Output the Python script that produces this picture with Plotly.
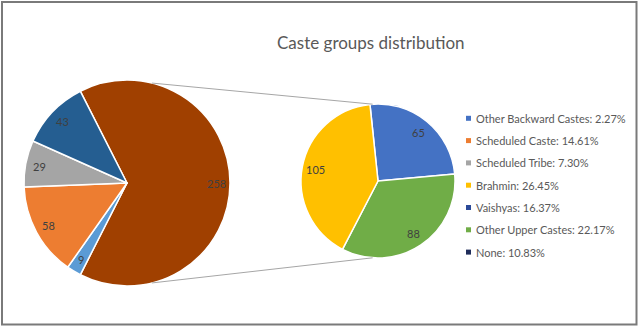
import math
import plotly.graph_objects as go

# Caste group counts
groups = ["Other Backward Castes", "Scheduled Caste", "Scheduled Tribe",
          "Brahmin", "Vaishyas", "Other Upper Castes", "None"]
counts = [9, 58, 29, 105, 65, 88, 43]
legend_colors = ["#4472C4", "#ED7D31", "#A5A5A5", "#FFC000",
                 "#2B4A98", "#70AD47", "#1F2D5A"]

# Upper castes are split out into the secondary pie
main_order = ["Other Backward Castes", "Scheduled Caste", "Scheduled Tribe", "None"]
main_colors = ["#5B9BD5", "#ED7D31", "#A5A5A5", "#255E91"]
detail_order = ["Vaishyas", "Other Upper Castes", "Brahmin"]
detail_colors = ["#4472C4", "#70AD47", "#FFC000"]
other_color = "#A04000"

W, H = 640, 328
value_of = dict(zip(groups, counts))
total = sum(counts)
detail_vals = [value_of[g] for g in detail_order]
other_val = sum(detail_vals)
main_vals = [other_val] + [value_of[g] for g in main_order]

# pie geometry in pixels: centre x, centre y, radius, label radius fraction
LEFT = (127, 183, 103, 0.87)
RIGHT = (378, 181, 77, 0.82)
left_rotation = 90 - other_val / total * 180
right_rotation = -6


def dom(c):
    cx, cy, r, _ = c
    return dict(x=[(cx - r) / W, (cx + r) / W], y=[1 - (cy + r) / H, 1 - (cy - r) / H])


def px(x, y):
    return x / W, 1 - y / H


def on_circle(c, ang, frac=1.0):
    cx, cy, r, _ = c
    a = math.radians(ang)
    return cx + frac * r * math.sin(a), cy - frac * r * math.cos(a)


label_font = dict(family="Lato, Carlito, sans-serif", size=11, color="#404040")

fig = go.Figure()
fig.add_trace(go.Pie(
    values=main_vals, labels=["Other"] + main_order, sort=False,
    direction="clockwise", rotation=left_rotation,
    marker=dict(colors=[other_color] + main_colors, line=dict(color="white", width=1.5)),
    textinfo="none", domain=dom(LEFT), showlegend=False, hoverinfo="label+value",
))
fig.add_trace(go.Pie(
    values=detail_vals, labels=detail_order, sort=False,
    direction="clockwise", rotation=right_rotation,
    marker=dict(colors=detail_colors, line=dict(color="white", width=1.5)),
    textinfo="none", domain=dom(RIGHT), showlegend=False, hoverinfo="label+value",
))

shapes = []
annotations = []

# value labels at each slice's mid angle
for geom, vals, rot in [(LEFT, main_vals, left_rotation), (RIGHT, detail_vals, right_rotation)]:
    s = sum(vals)
    start = rot
    for v in vals:
        span = v / s * 360
        mid = start + span / 2
        lx, ly = px(*on_circle(geom, mid, geom[3]))
        annotations.append(dict(x=lx, y=ly, xref="paper", yref="paper", xanchor="center",
                                yanchor="middle", showarrow=False, text=str(v), font=label_font))
        start += span

# connector lines between the two pies
for a_left, a_right in [(14, -4), (166, 184)]:
    x0, y0 = px(*on_circle(LEFT, a_left))
    x1, y1 = px(*on_circle(RIGHT, a_right))
    shapes.append(dict(type="line", xref="paper", yref="paper", x0=x0, y0=y0, x1=x1, y1=y1,
                       line=dict(color="#A6A6A6", width=1)))

# legend
for i, (g, v, col) in enumerate(zip(groups, counts, legend_colors)):
    yy = 118.3 + i * 22.3
    sx0, sy0 = px(466, yy - 2.5)
    sx1, sy1 = px(471, yy + 2.5)
    shapes.append(dict(type="rect", xref="paper", yref="paper", x0=sx0, y0=sy0, x1=sx1, y1=sy1,
                       fillcolor=col, line=dict(width=0)))
    tx, ty = px(474, yy)
    annotations.append(dict(x=tx, y=ty, xref="paper", yref="paper", xanchor="left", yanchor="middle",
                            showarrow=False, text=f"{g}: {v / total * 100:.2f}%",
                            font=dict(family="Lato, Carlito, sans-serif", size=11, color="#595959")))

# outer frame
fx0, fy0 = px(2, 2)
fx1, fy1 = px(636.5, 324.5)
shapes.append(dict(type="rect", xref="paper", yref="paper", x0=fx0, y0=fy0, x1=fx1, y1=fy1,
                   line=dict(color="#7A7A7A", width=2), fillcolor="rgba(0,0,0,0)"))

tx, ty = px(371, 42)
annotations.append(dict(x=tx, y=ty, xref="paper", yref="paper", xanchor="center", yanchor="middle",
                        showarrow=False, text="Caste groups distribution",
                        font=dict(family="Lato, Carlito, sans-serif", size=17, color="#595959")))

fig.update_layout(
    width=W, height=H, margin=dict(l=0, r=0, t=0, b=0),
    paper_bgcolor="white", plot_bgcolor="white",
    shapes=shapes, annotations=annotations,
)

fig.write_html("out.html")
